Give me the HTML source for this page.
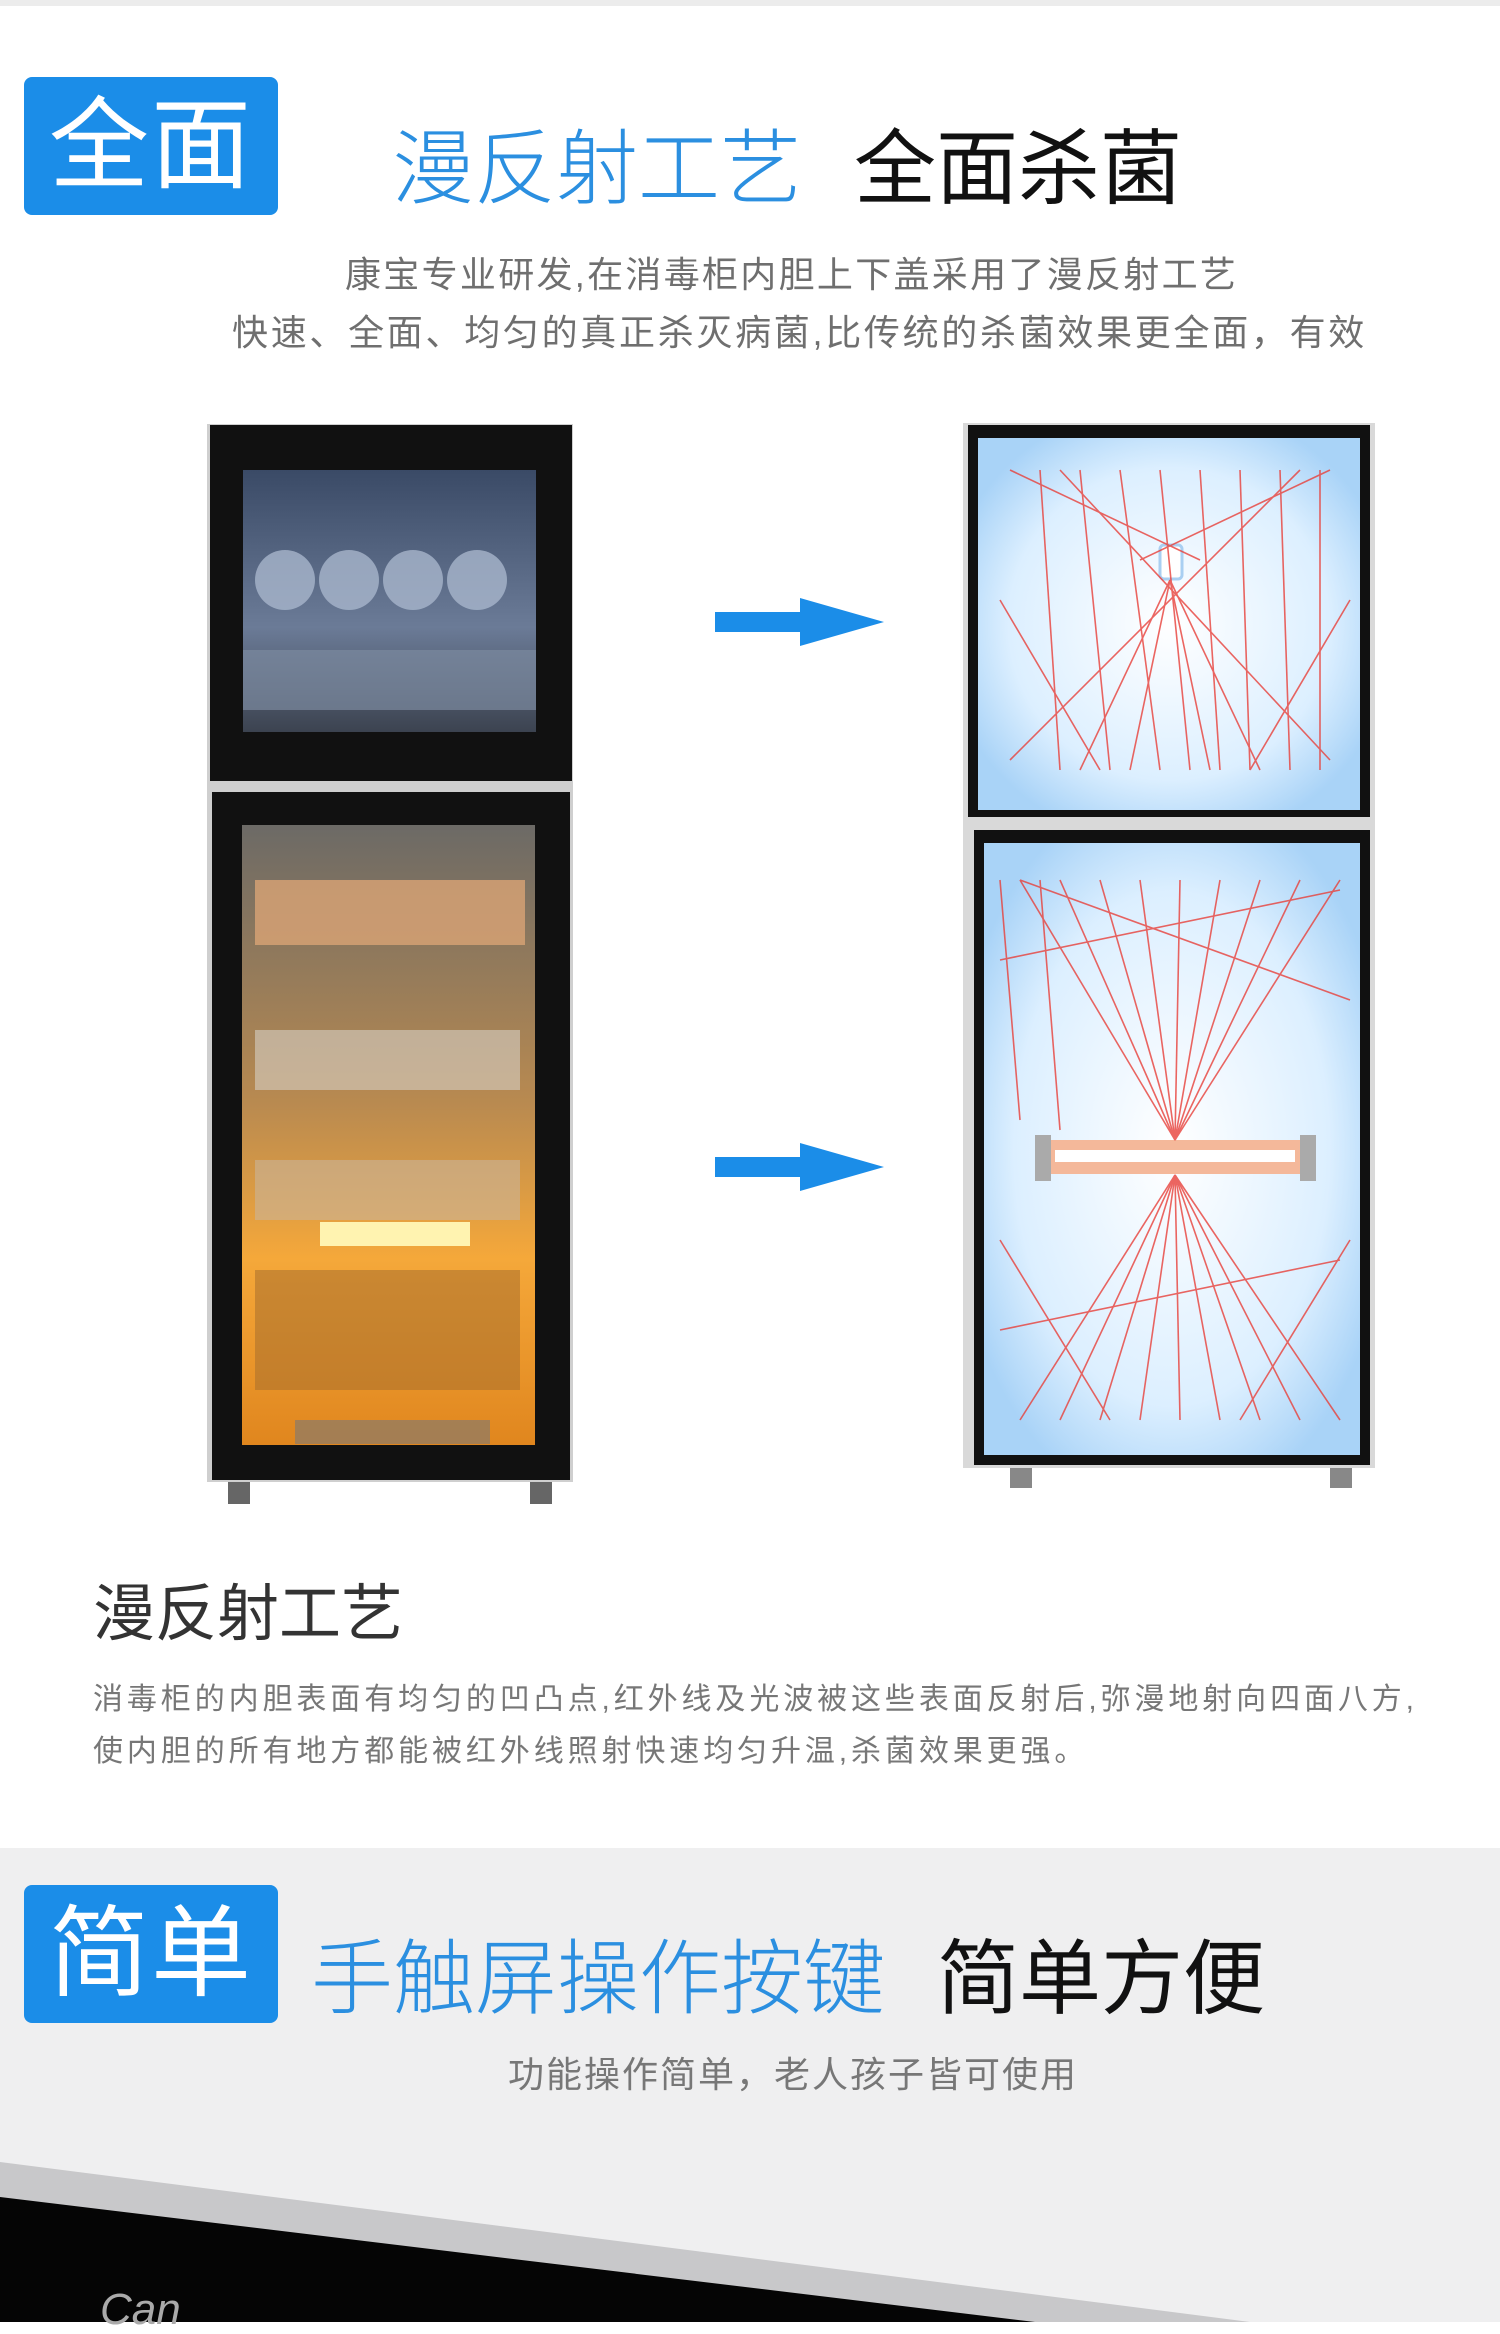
<!DOCTYPE html>
<html><head><meta charset="utf-8"><style>
body{margin:0;width:1500px;height:2322px;position:relative;background:#fff;overflow:hidden;font-family:"Liberation Sans","Noto Sans CJK SC",sans-serif}
.a{position:absolute;white-space:nowrap}
.badge{position:absolute;background:#1b8de8;border-radius:8px;color:#fff;font-size:100px;line-height:138px;text-align:center;letter-spacing:2px}
</style></head><body>
<div class="a" style="left:0;top:0;width:1500px;height:6px;background:#ececec"></div>
<div class="badge" style="left:24px;top:77px;width:254px;height:138px">全面</div>
<div class="a" style="left:392px;top:120px;font-size:82px;line-height:100px;color:#2b8fe0;font-weight:300">漫反射工艺</div>
<div class="a" style="left:854px;top:120px;font-size:82px;line-height:100px;color:#111">全面杀菌</div>
<div class="a" style="left:345px;top:252px;font-size:36px;line-height:46px;color:#6f6f6f;letter-spacing:2.3px">康宝专业研发,在消毒柜内胆上下盖采用了漫反射工艺</div>
<div class="a" style="left:232px;top:310px;font-size:36px;line-height:46px;color:#6f6f6f;letter-spacing:2.7px">快速、全面、均匀的真正杀灭病菌,比传统的杀菌效果更全面，有效</div>

<svg class="a" style="left:0;top:0" width="1500" height="1848">
<defs>
<linearGradient id="og" x1="0" y1="0" x2="0" y2="1"><stop offset="0" stop-color="#6c6a66"/><stop offset=".45" stop-color="#b98a50"/><stop offset=".7" stop-color="#f5a83a"/><stop offset="1" stop-color="#e0861e"/></linearGradient>
<linearGradient id="bg" x1="0" y1="0" x2="0" y2="1"><stop offset="0" stop-color="#3a4a66"/><stop offset=".6" stop-color="#6b7b97"/><stop offset="1" stop-color="#3c4350"/></linearGradient>
<radialGradient id="lb" cx=".5" cy=".5" r=".6"><stop offset="0" stop-color="#fff"/><stop offset=".7" stop-color="#dcefff"/><stop offset="1" stop-color="#a9d3f7"/></radialGradient>
</defs>
<rect x="207" y="424" width="366" height="1058" fill="#cfcfcf"/>
<rect x="210" y="425" width="362" height="356" fill="#111"/>
<rect x="243" y="470" width="293" height="262" fill="url(#bg)"/>
<g fill="#a8b6cc" opacity=".8"><circle cx="285" cy="580" r="30"/><circle cx="349" cy="580" r="30"/><circle cx="413" cy="580" r="30"/><circle cx="477" cy="580" r="30"/></g>
<rect x="243" y="650" width="293" height="60" fill="#7c8aa0" opacity=".7"/>
<rect x="212" y="792" width="358" height="688" fill="#111"/>
<rect x="242" y="825" width="293" height="620" fill="url(#og)"/>
<rect x="255" y="880" width="270" height="65" fill="#d9a476" opacity=".8"/>
<rect x="255" y="1030" width="265" height="60" fill="#d6cfc4" opacity=".6"/>
<rect x="255" y="1160" width="265" height="60" fill="#c9b49a" opacity=".6"/>
<rect x="320" y="1222" width="150" height="24" fill="#fff3b0"/>
<rect x="255" y="1270" width="265" height="120" fill="#a7702e" opacity=".55"/>
<rect x="295" y="1420" width="195" height="24" fill="#8a7a6a" opacity=".7"/>
<rect x="228" y="1482" width="22" height="22" fill="#666"/><rect x="530" y="1482" width="22" height="22" fill="#666"/>
<polygon points="715,612 800,612 800,598 884,622 800,646 800,632 715,632" fill="#1b8de8"/>
<polygon points="715,1157 800,1157 800,1143 884,1167 800,1191 800,1177 715,1177" fill="#1b8de8"/>
<rect x="963" y="423" width="412" height="1045" fill="#d9d9d9"/>
<rect x="968" y="425" width="402" height="392" fill="#111"/>
<rect x="978" y="438" width="382" height="372" fill="url(#lb)"/>
<rect x="974" y="830" width="396" height="635" fill="#111"/>
<rect x="984" y="843" width="376" height="612" fill="url(#lb)"/>
<rect x="1160" y="545" width="22" height="34" rx="4" fill="#fff" stroke="#a9cff2" stroke-width="3"/>
<rect x="1040" y="1140" width="270" height="34" rx="10" fill="#f4b89a"/><rect x="1055" y="1150" width="240" height="12" fill="#fff"/>
<rect x="1035" y="1135" width="16" height="46" fill="#aaa"/><rect x="1300" y="1135" width="16" height="46" fill="#aaa"/>
<g stroke="#e8403a" stroke-width="1.6" opacity=".8">
<line x1="1040" y1="470" x2="1060" y2="770"/><line x1="1080" y1="470" x2="1110" y2="770"/><line x1="1120" y1="470" x2="1160" y2="770"/><line x1="1160" y1="470" x2="1190" y2="770"/><line x1="1200" y1="470" x2="1220" y2="770"/><line x1="1240" y1="470" x2="1250" y2="770"/><line x1="1280" y1="470" x2="1290" y2="770"/><line x1="1320" y1="470" x2="1320" y2="770"/>
<line x1="1170" y1="580" x2="1080" y2="770"/><line x1="1170" y1="580" x2="1130" y2="770"/><line x1="1170" y1="580" x2="1210" y2="770"/><line x1="1170" y1="580" x2="1260" y2="770"/>
<line x1="1010" y1="470" x2="1200" y2="560"/><line x1="1330" y1="470" x2="1140" y2="560"/><line x1="1000" y1="600" x2="1100" y2="770"/><line x1="1350" y1="600" x2="1250" y2="770"/><line x1="1060" y1="470" x2="1330" y2="760"/><line x1="1300" y1="470" x2="1010" y2="760"/>
<line x1="1000" y1="880" x2="1020" y2="1120"/><line x1="1040" y1="880" x2="1060" y2="1130"/>
<line x1="1175" y1="1140" x2="1020" y2="880"/><line x1="1175" y1="1140" x2="1060" y2="880"/><line x1="1175" y1="1140" x2="1100" y2="880"/><line x1="1175" y1="1140" x2="1140" y2="880"/><line x1="1175" y1="1140" x2="1180" y2="880"/><line x1="1175" y1="1140" x2="1220" y2="880"/><line x1="1175" y1="1140" x2="1260" y2="880"/><line x1="1175" y1="1140" x2="1300" y2="880"/><line x1="1175" y1="1140" x2="1340" y2="880"/>
<line x1="1175" y1="1175" x2="1020" y2="1420"/><line x1="1175" y1="1175" x2="1060" y2="1420"/><line x1="1175" y1="1175" x2="1100" y2="1420"/><line x1="1175" y1="1175" x2="1140" y2="1420"/><line x1="1175" y1="1175" x2="1180" y2="1420"/><line x1="1175" y1="1175" x2="1220" y2="1420"/><line x1="1175" y1="1175" x2="1260" y2="1420"/><line x1="1175" y1="1175" x2="1300" y2="1420"/><line x1="1175" y1="1175" x2="1340" y2="1420"/>
<line x1="1000" y1="960" x2="1340" y2="890"/><line x1="1000" y1="1330" x2="1340" y2="1260"/><line x1="1350" y1="1000" x2="1020" y2="880"/><line x1="1000" y1="1240" x2="1110" y2="1420"/><line x1="1350" y1="1240" x2="1240" y2="1420"/>
</g>
<rect x="1010" y="1468" width="22" height="20" fill="#888"/><rect x="1330" y="1468" width="22" height="20" fill="#888"/>
</svg>

<div class="a" style="left:93px;top:1580px;font-size:62px;line-height:70px;color:#333">漫反射工艺</div>
<div class="a" style="left:93px;top:1680px;font-size:30px;line-height:40px;color:#777;letter-spacing:3.9px">消毒柜的内胆表面有均匀的凹凸点,红外线及光波被这些表面反射后,弥漫地射向四面八方,</div>
<div class="a" style="left:93px;top:1732px;font-size:30px;line-height:40px;color:#777;letter-spacing:3.9px">使内胆的所有地方都能被红外线照射快速均匀升温,杀菌效果更强。</div>

<div class="a" style="left:0;top:1848px;width:1500px;height:474px;background:#efeff0"></div>
<div class="badge" style="left:24px;top:1885px;width:254px;height:138px">简单</div>
<div class="a" style="left:311px;top:1930px;font-size:82px;line-height:100px;color:#2b8fe0;font-weight:300">手触屏操作按键</div>
<div class="a" style="left:937px;top:1930px;font-size:82px;line-height:100px;color:#111">简单方便</div>
<div class="a" style="left:508px;top:2052px;font-size:36px;line-height:46px;color:#777;letter-spacing:2px">功能操作简单，老人孩子皆可使用</div>
<svg class="a" style="left:0;top:1848px" width="1500" height="474">
<polygon points="0,314 1250,474 0,474" fill="#c8c8ca"/>
<polygon points="0,349 1035,474 0,474" fill="#050505"/>
</svg>
<div class="a" style="left:100px;top:2290px;font-size:44px;line-height:40px;color:#aaa;font-style:italic">Can</div>
</body></html>
